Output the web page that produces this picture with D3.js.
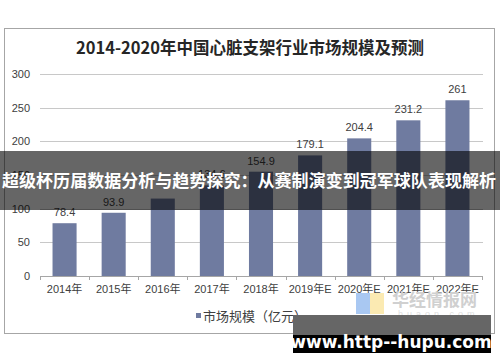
<!DOCTYPE html>
<html>
<head>
<meta charset="utf-8">
<script src="https://cdn.jsdelivr.net/npm/d3@7"></script>
<style>
  body { margin: 0; background: #fff; }
  text { font-family: "Liberation Sans", "Noto Sans CJK SC", sans-serif; }
</style>
</head>
<body>
<div id="chart"></div>
<script>
// data
var years = ["2014年", "2015年", "2016年", "2017年", "2018年", "2019年E", "2020年E", "2021年E", "2022年E"];
var values = [78.4, 93.9, 115, 134.6, 154.9, 179.1, 204.4, 231.2, 261];
var valueLabels = ["78.4", "93.9", "", "134.6", "154.9", "179.1", "204.4", "231.2", "261"];
var yTicks = [0, 50, 100, 150, 200, 250, 300];

var w = 500, h = 362;

var svg = d3.select("#chart").append("svg")
    .attr("width", w)
    .attr("height", h);

// outer frame
svg.append("rect")
    .attr("x", 4.5).attr("y", 28.5)
    .attr("width", 490).attr("height", 305)
    .attr("fill", "#fff")
    .attr("stroke", "#a6a6a6");

svg.append("text")
    .attr("x", 250).attr("y", 54)
    .attr("text-anchor", "middle")
    .style("font-family", "'Noto Sans CJK SC'")
    .style("font-size", "16.5px")
    .style("font-weight", "bold")
    .attr("fill", "#262626")
    .text("2014-2020年中国心脏支架行业市场规模及预测");

var xScale = d3.scaleBand()
    .domain(years)
    .range([40, 482])
    .paddingInner(0.51)
    .paddingOuter(0.255);

var yScale = d3.scaleLinear()
    .domain([0, 300])
    .range([276, 74]);

// gridlines
svg.append("g")
    .selectAll("line")
    .data(yTicks.filter(function (d) { return d > 0; }))
    .enter().append("line")
    .attr("x1", 40).attr("x2", 483)
    .attr("y1", function (d) { return Math.round(yScale(d)) + 0.5; })
    .attr("y2", function (d) { return Math.round(yScale(d)) + 0.5; })
    .attr("stroke", "#c8c8c8");

// y labels
svg.append("g")
    .selectAll("text")
    .data(yTicks)
    .enter().append("text")
    .attr("x", 30)
    .attr("y", function (d) { return yScale(d) + 4; })
    .attr("text-anchor", "end")
    .style("font-size", "11px")
    .attr("fill", "#404040")
    .text(function (d) { return d; });

// bars
svg.append("g")
    .selectAll("rect")
    .data(values)
    .enter().append("rect")
    .attr("x", function (d, i) { return xScale(years[i]); })
    .attr("y", function (d) { return yScale(d); })
    .attr("width", xScale.bandwidth())
    .attr("height", function (d) { return yScale(0) - yScale(d); })
    .attr("fill", "#6f7ba0");

// value labels
svg.append("g")
    .selectAll("text")
    .data(values)
    .enter().append("text")
    .attr("x", function (d, i) { return xScale(years[i]) + xScale.bandwidth() / 2; })
    .attr("y", function (d) { return yScale(d) - 7; })
    .attr("text-anchor", "middle")
    .style("font-size", "11px")
    .attr("fill", "#404040")
    .text(function (d, i) { return valueLabels[i]; });

// x axis
var xAxis = d3.axisBottom(xScale).tickSize(0).tickPadding(9);
var gx = svg.append("g")
    .attr("transform", "translate(0," + 276.5 + ")")
    .call(xAxis);
gx.select(".domain").attr("d", "M40,0H483").attr("stroke", "#a6a6a6");
gx.selectAll("text")
    .style("font-size", "11px")
    .style("font-family", "'Liberation Sans', 'Noto Sans CJK SC', sans-serif")
    .attr("fill", "#404040");

// band boundary ticks
var step = xScale.step();
svg.append("g")
    .selectAll("line")
    .data(d3.range(years.length + 1))
    .enter().append("line")
    .attr("x1", function (i) { return Math.round(40 + i * step) + 0.5; })
    .attr("x2", function (i) { return Math.round(40 + i * step) + 0.5; })
    .attr("y1", 276).attr("y2", 280)
    .attr("stroke", "#a6a6a6");

// legend
svg.append("rect")
    .attr("x", 196).attr("y", 313)
    .attr("width", 5).attr("height", 5)
    .attr("fill", "#6f7ba0");
svg.append("text")
    .attr("x", 203).attr("y", 321)
    .style("font-size", "13px")
    .attr("fill", "#404040")
    .text("市场规模（亿元）");

// faint source watermark
svg.append("rect").attr("x", 356).attr("y", 293).attr("width", 14).attr("height", 21).attr("fill", "#a9c8f2");
svg.append("rect").attr("x", 370).attr("y", 293).attr("width", 14).attr("height", 21).attr("fill", "#fbeab2");
svg.append("text")
    .attr("x", 392).attr("y", 306)
    .style("font-family", "'Noto Sans CJK SC'")
    .style("font-size", "17px")
    .style("font-weight", "bold")
    .attr("fill", "#d0d0d0")
    .text("华经情报网");
svg.append("text")
    .attr("x", 398).attr("y", 317)
    .style("font-size", "9px")
    .style("letter-spacing", "4px")
    .attr("fill", "#e0e0e0")
    .text("huaon.com");

// overlay banner
svg.append("rect")
    .attr("x", 0).attr("y", 151)
    .attr("width", w).attr("height", 59)
    .attr("fill", "rgba(0,0,0,0.6)");
svg.append("text")
    .attr("x", 249).attr("y", 187)
    .attr("text-anchor", "middle")
    .attr("textLength", 494)
    .style("font-family", "'Noto Sans CJK SC'")
    .style("font-size", "17px")
    .style("font-weight", "bold")
    .attr("fill", "#fff")
    .text("超级杯历届数据分析与趋势探究：从赛制演变到冠军球队表现解析");

// url badge
svg.append("rect").attr("x", 293).attr("y", 315).attr("width", 198).attr("height", 20).attr("fill", "#666");
svg.append("rect").attr("x", 293).attr("y", 335).attr("width", 198).attr("height", 18).attr("fill", "#000");
svg.append("text")
    .attr("x", 391).attr("y", 348)
    .attr("text-anchor", "middle")
    .style("font-family", "'DejaVu Sans'")
    .style("font-size", "17px")
    .style("font-weight", "bold")
    .attr("fill", "#fff")
    .text("www.http--hupu.com");
</script>
</body>
</html>
